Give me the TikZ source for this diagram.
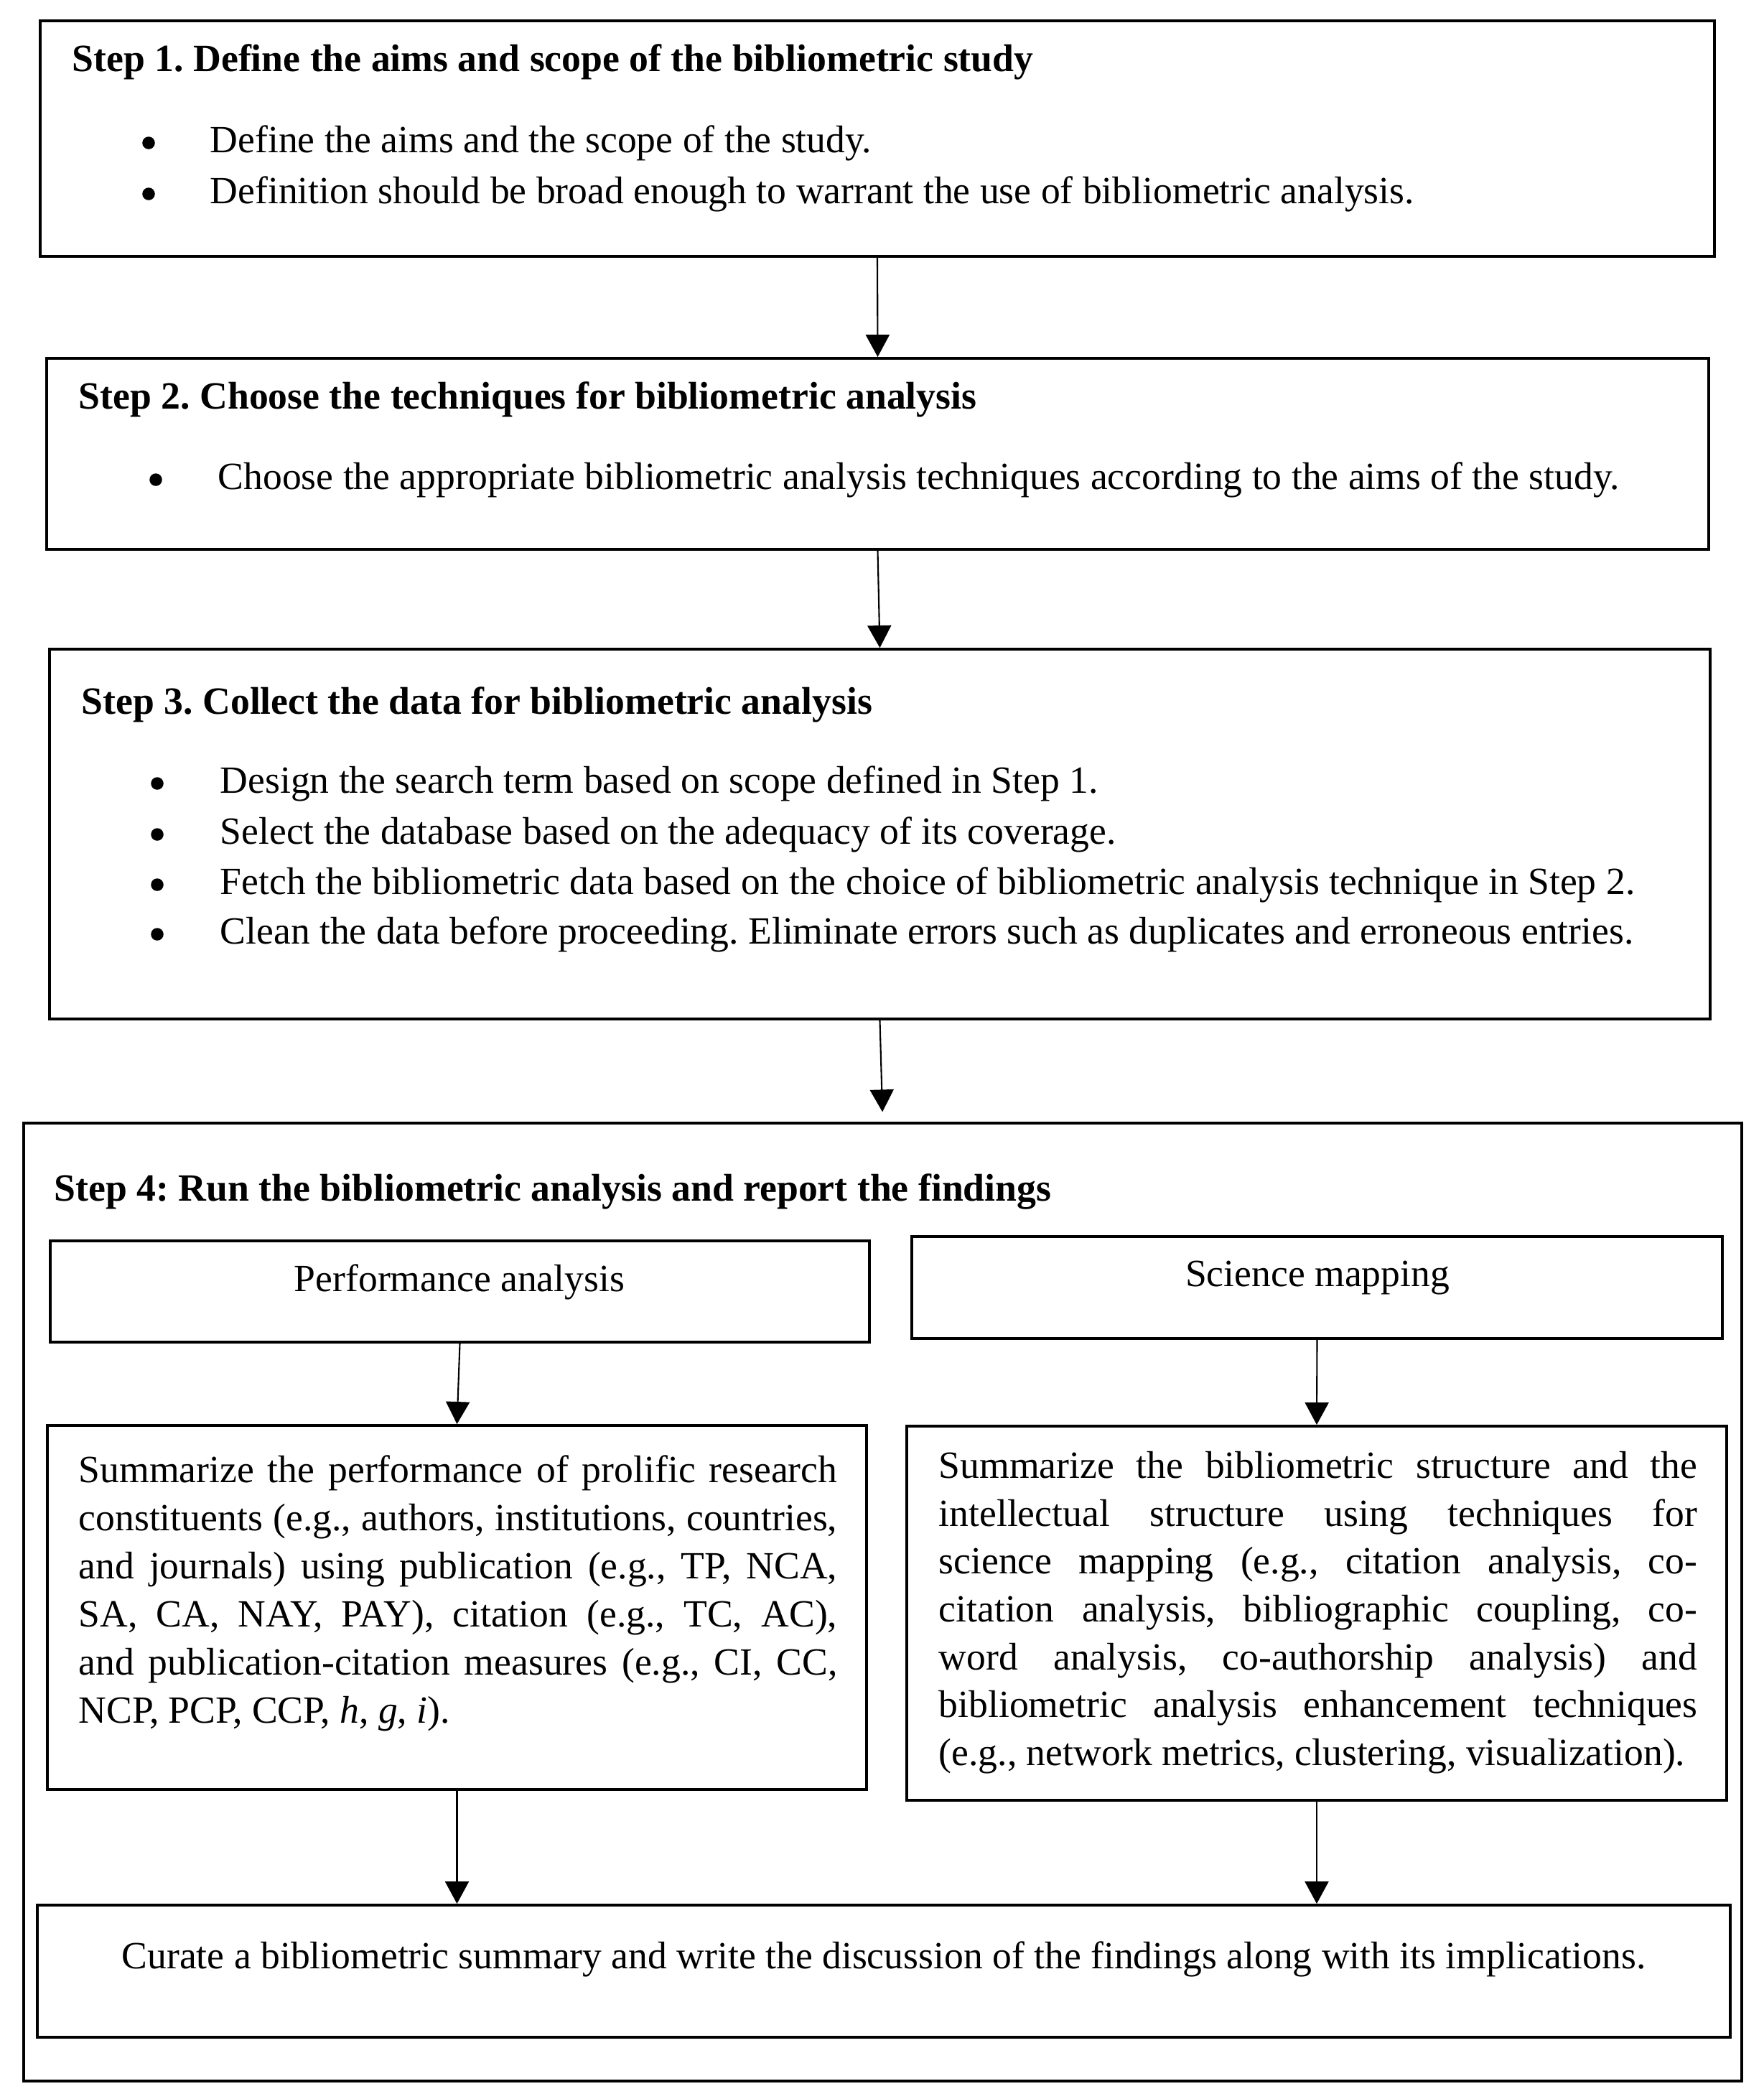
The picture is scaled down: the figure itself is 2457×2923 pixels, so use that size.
\documentclass[tikz,border=0pt]{standalone}
\usepackage{fontspec}
\setmainfont{Liberation Serif}
\usetikzlibrary{arrows.meta,fit}
\newcommand\jl[1]{\makebox[10.56cm][s]{#1}}
\begin{document}
\frenchspacing
\begin{tikzpicture}[x=0.01cm,y=-0.01cm,
 box/.style={draw, line width=1.1pt, inner sep=0pt},
 obox/.style={draw, line width=0.9pt, inner sep=0pt},
 arr/.style={-{Triangle[length=0.31cm,width=0.33cm]}, line width=0.6pt},
 dot/.style={circle, fill, inner sep=0pt, minimum size=0.175cm},
 txt/.style={inner sep=0pt, anchor=base west, font=\fontsize{0.536cm}{0.67cm}\selectfont},
 ttl/.style={txt, font=\fontsize{0.537cm}{0.67cm}\selectfont\bfseries},
]
\useasboundingbox (0,0) rectangle (2457,2923);
% boxes
\node[box, fit={(56,29) (2388,357)}] (b1) {};
\node[box, fit={(65,499) (2380,765)}] (b2) {};
\node[box, fit={(69,904) (2382,1419)}] (b3) {};
\node[obox, fit={(33,1564) (2426,2898)}] (b4) {};
\node[box, fit={(70,1728) (1211,1869)}] (pa) {};
\node[box, fit={(1270,1722) (2399,1864)}] (sm) {};
\node[box, fit={(66,1985) (1207,2492)}] (ps) {};
\node[box, fit={(1263,1986) (2405,2507)}] (ss) {};
\node[box, fit={(52,2653) (2410,2837)}] (fin) {};
% arrows
\draw[arr] (b1.south) -- (b2.north);
\draw[arr] (b2.south) -- (b3.north);
\draw[arr, shorten >=0.14cm] (b3.south) -- (b4.north);
\draw[arr] (pa.south) -- (ps.north);
\draw[arr] (sm.south) -- (ss.north);
\draw[arr] (ps.south) -- (ps.south |- fin.north);
\draw[arr] (ss.south) -- (ss.south |- fin.north);
% step 1
\node[ttl] (t1) at (100,99.5) {Step 1. Define the aims and scope of the bibliometric study};
\node[dot] (d1a) at (207,199) {};
\node[dot] (d1b) at (207,270) {};
\node[txt] (l1a) at (292,212) {Define the aims and the scope of the study.};
\node[txt] (l1b) at (292,283) {Definition should be broad enough to warrant the use of bibliometric analysis.};
% step 2
\node[ttl] (t2) at (109,569) {Step 2. Choose the techniques for bibliometric analysis};
\node[dot] (d2a) at (217,668) {};
\node[txt] (l2a) at (303,681) {Choose the appropriate bibliometric analysis techniques according to the aims of the study.};
% step 3
\node[ttl] (t3) at (113,994) {Step 3. Collect the data for bibliometric analysis};
\node[dot] (d3a) at (219,1091) {};
\node[dot] (d3b) at (219,1162) {};
\node[dot] (d3c) at (219,1232) {};
\node[dot] (d3d) at (219,1301) {};
\node[txt] (l3a) at (306,1104) {Design the search term based on scope defined in Step 1.};
\node[txt] (l3b) at (306,1175) {Select the database based on the adequacy of its coverage.};
\node[txt] (l3c) at (306,1245) {Fetch the bibliometric data based on the choice of bibliometric analysis technique in Step 2.};
\node[txt] (l3d) at (306,1314) {Clean the data before proceeding. Eliminate errors such as duplicates and erroneous entries.};
% step 4
\node[ttl] (t4) at (75,1672) {Step 4: Run the bibliometric analysis and report the findings};
\node[txt, anchor=base] (pat) at (640,1798) {Performance analysis};
\node[txt, anchor=base] (smt) at (1835,1791) {Science mapping};
\node[txt] (ps1) at (109,2064) {\jl{Summarize the performance of prolific research}};
\node[txt] (ps2) at (109,2131) {\jl{constituents (e.g., authors, institutions, countries,}};
\node[txt] (ps3) at (109,2198) {\jl{and journals) using publication (e.g., TP, NCA,}};
\node[txt] (ps4) at (109,2265) {\jl{SA, CA, NAY, PAY), citation (e.g., TC, AC),}};
\node[txt] (ps5) at (109,2332) {\jl{and publication-citation measures (e.g., CI, CC,}};
\node[txt] (ps6) at (109,2399) {NCP, PCP, CCP, \textit{h}, \textit{g}, \textit{i}).};
\node[txt] (ss1) at (1307,2058) {\jl{Summarize the bibliometric structure and the}};
\node[txt] (ss2) at (1307,2125) {\jl{intellectual structure using techniques for}};
\node[txt] (ss3) at (1307,2191) {\jl{science mapping (e.g., citation analysis, co-}};
\node[txt] (ss4) at (1307,2258) {\jl{citation analysis, bibliographic coupling, co-}};
\node[txt] (ss5) at (1307,2325) {\jl{word analysis, co-authorship analysis) and}};
\node[txt] (ss6) at (1307,2391) {\jl{bibliometric analysis enhancement techniques}};
\node[txt] (ss7) at (1307,2458) {(e.g., network metrics, clustering, visualization).};
\node[txt, anchor=base] (fint) at (1231,2741) {Curate a bibliometric summary and write the discussion of the findings along with its implications.};
\end{tikzpicture}
\end{document}
